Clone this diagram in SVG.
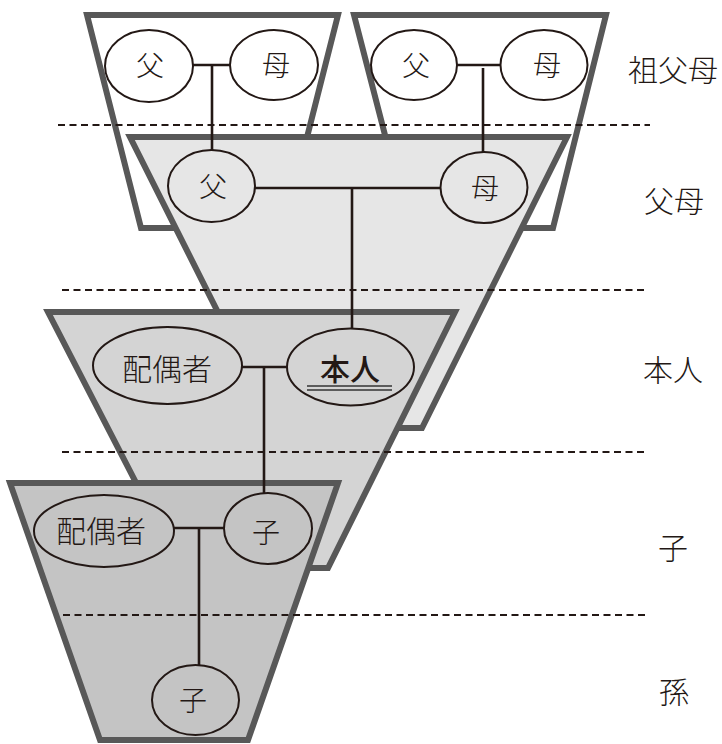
<svg xmlns="http://www.w3.org/2000/svg" width="722" height="744" viewBox="0 0 722 744">
<style>
.tz{stroke:#585858;stroke-width:6;stroke-linejoin:miter}
.el{stroke:#231815;stroke-width:2}
.ln{stroke:#231815;stroke-width:2.6;fill:none}
.dl{stroke:#231815;stroke-width:1.8;stroke-dasharray:7 4.5;fill:none}
.t{font-family:"Noto Sans CJK JP","Noto Sans CJK SC",sans-serif;fill:#231815;text-anchor:middle;font-weight:300}
.lb{font-family:"Noto Sans CJK JP","Noto Sans CJK SC",sans-serif;fill:#231815;text-anchor:middle;font-size:30px;font-weight:300}
</style>
<g id="generations">
<polygon id="gp-left-area" class="tz" fill="#ffffff" points="87,15 338,15 284,228 141,228"/>
<polygon id="gp-right-area" class="tz" fill="#ffffff" points="354,15 606,15 553,228 409,228"/>
<polygon id="parents-area" class="tz" fill="#e6e6e6" points="130,137 567,137 422,428 276,428"/>
<polygon id="self-area" class="tz" fill="#d4d4d4" points="48,312 455,312 328,568 180,568"/>
<polygon id="child-area" class="tz" fill="#c4c4c4" points="10,483 338,483 248,740 100,740"/>
</g>
<g id="dividers">
<line class="dl" x1="58" y1="125" x2="650" y2="125"/>
<line class="dl" x1="62" y1="290" x2="648" y2="290"/>
<line class="dl" x1="62" y1="452" x2="645" y2="452"/>
<line class="dl" x1="63" y1="615" x2="645" y2="615"/>
</g>
<g id="connectors">
<line class="ln" x1="192" y1="65" x2="231" y2="65"/>
<line class="ln" x1="212" y1="65" x2="212" y2="151"/>
<line class="ln" x1="457" y1="65" x2="501" y2="65"/>
<line class="ln" x1="483" y1="68" x2="483" y2="153"/>
<line class="ln" x1="255" y1="188" x2="441" y2="188"/>
<line class="ln" x1="352" y1="188" x2="352" y2="329"/>
<line class="ln" x1="241" y1="367" x2="288" y2="367"/>
<line class="ln" x1="264" y1="367" x2="264" y2="494"/>
<line class="ln" x1="174" y1="528" x2="225" y2="528"/>
<line class="ln" x1="199" y1="528" x2="199" y2="665"/>
</g>
<g id="gp-left-father">
<ellipse class="el" fill="#ffffff" cx="149" cy="66" rx="44" ry="36"/>
<text class="t" x="150" y="76" font-size="28">父</text>
</g>
<g id="gp-left-mother">
<ellipse class="el" fill="#ffffff" cx="274" cy="65" rx="44" ry="35"/>
<text class="t" x="276" y="76" font-size="28">母</text>
</g>
<g id="gp-right-father">
<ellipse class="el" fill="#ffffff" cx="414" cy="65" rx="43" ry="35"/>
<text class="t" x="416" y="76" font-size="28">父</text>
</g>
<g id="gp-right-mother">
<ellipse class="el" fill="#ffffff" cx="544" cy="65" rx="43.5" ry="35"/>
<text class="t" x="547" y="76" font-size="28">母</text>
</g>
<g id="father">
<ellipse class="el" fill="#e6e6e6" cx="211.5" cy="186" rx="43.5" ry="36"/>
<text class="t" x="213" y="197" font-size="28">父</text>
</g>
<g id="mother">
<ellipse class="el" fill="#e6e6e6" cx="484" cy="187.5" rx="43.5" ry="35.5"/>
<text class="t" x="485" y="199" font-size="28">母</text>
</g>
<g id="spouse">
<ellipse class="el" fill="#d4d4d4" cx="167.5" cy="365.5" rx="74.5" ry="38.5"/>
<text class="t" x="167" y="380" font-size="30">配偶者</text>
</g>
<g id="self">
<ellipse class="el" fill="#d4d4d4" cx="350.5" cy="367" rx="63.5" ry="38.5"/>
<text class="t" x="350" y="380" font-size="30" style="font-weight:500">本人</text>
<line x1="307" y1="386" x2="392" y2="386" stroke="#333" stroke-width="1.3"/>
<line x1="307" y1="390" x2="392" y2="390" stroke="#333" stroke-width="1.3"/>
</g>
<g id="child-spouse">
<ellipse class="el" fill="#c4c4c4" cx="104" cy="531" rx="70" ry="36"/>
<text class="t" x="101" y="542" font-size="30">配偶者</text>
</g>
<g id="child">
<ellipse class="el" fill="#c4c4c4" cx="268" cy="528.5" rx="44" ry="35.5"/>
<text class="t" x="266" y="543" font-size="28">子</text>
</g>
<g id="grandchild">
<ellipse class="el" fill="#c4c4c4" cx="195.5" cy="700" rx="43.5" ry="35"/>
<text class="t" x="193" y="711" font-size="28">子</text>
</g>
<g id="labels">
<text class="lb" x="673" y="81">祖父母</text>
<text class="lb" x="674" y="212">父母</text>
<text class="lb" x="673" y="381">本人</text>
<text class="lb" x="673" y="559">子</text>
<text class="lb" x="674" y="703">孫</text>
</g>
</svg>
